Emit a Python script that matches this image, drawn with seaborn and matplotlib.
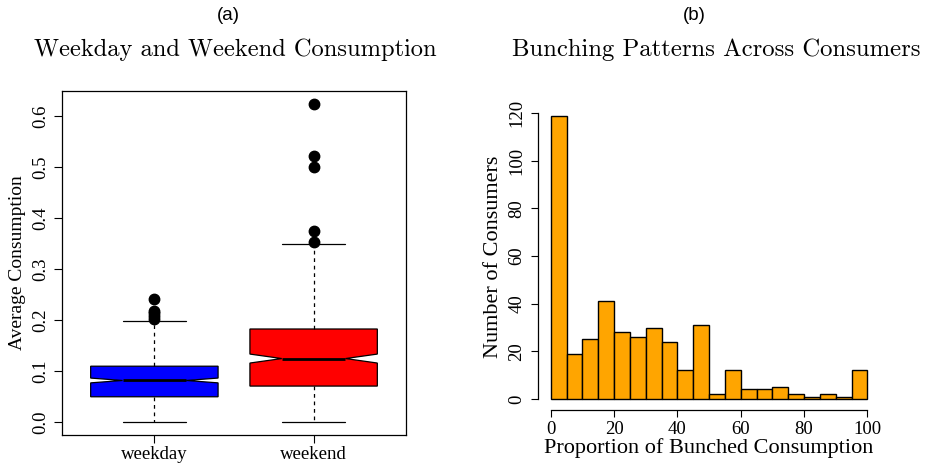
import numpy as np
import pandas as pd
import matplotlib
matplotlib.use("Agg")
import matplotlib.pyplot as plt
import seaborn as sns

# ---------------- data ----------------
groups = ["weekday", "weekend"]
box_colors = ["blue", "red"]

# distinct consumption values and how many consumers share each (n = 400)
weekday_values = [0.0, 0.05, 0.082, 0.11, 0.198, 0.203, 0.208, 0.214, 0.219, 0.242]
weekday_counts = [50, 100, 100, 95, 50, 1, 1, 1, 1, 1]
weekend_values = [0.0, 0.071, 0.125, 0.183, 0.350, 0.354, 0.375, 0.500, 0.522, 0.625]
weekend_counts = [50, 100, 100, 95, 50, 1, 1, 1, 1, 1]

bin_edges = [0, 5, 10, 15, 20, 25, 30, 35, 40, 45, 50, 55, 60, 65, 70, 75, 80, 85, 90, 95, 100]
bin_counts = [119, 19, 25, 41, 28, 26, 30, 24, 12, 31, 2, 12, 4, 4, 5, 2, 1, 2, 1, 12]

left_yticks = [0.0, 0.1, 0.2, 0.3, 0.4, 0.5, 0.6]
left_yticklabels = ["0.0", "0.1", "0.2", "0.3", "0.4", "0.5", "0.6"]
right_yticks = [0, 20, 40, 60, 80, 100, 120]
right_xticks = [0, 20, 40, 60, 80, 100]

# ---------------- build tables ----------------
df_box = pd.DataFrame({
    "group": ["weekday"] * sum(weekday_counts) + ["weekend"] * sum(weekend_counts),
    "value": np.concatenate([np.repeat(weekday_values, weekday_counts),
                             np.repeat(weekend_values, weekend_counts)]),
})
bin_mids = [(a + b) / 2 for a, b in zip(bin_edges[:-1], bin_edges[1:])]
df_hist = pd.DataFrame({"prop": bin_mids, "n": bin_counts})

# ---------------- figure ----------------
sns.set_theme(style="white")
plt.rcParams["font.family"] = ["Liberation Serif", "DejaVu Serif"]
plt.rcParams["text.color"] = "black"
plt.rcParams["axes.labelcolor"] = "black"
plt.rcParams["xtick.color"] = "black"
plt.rcParams["ytick.color"] = "black"

W, H = 932, 468
fig = plt.figure(figsize=(W / 100, H / 100), dpi=100)

def px_axes(x0, y0, x1, y1):
    return fig.add_axes([x0 / W, 1 - y1 / H, (x1 - x0) / W, (y1 - y0) / H])

# ---- (a) boxplot ----
ax1 = px_axes(62, 91, 406, 435)
sns.boxplot(data=df_box, x="group", y="value", hue="group", order=groups,
            hue_order=groups, palette=dict(zip(groups, box_colors)),
            saturation=1, notch=True, width=0.8, linecolor="black",
            linewidth=0.9, legend=False, ax=ax1,
            whiskerprops=dict(linestyle=(0, (3, 3)), linewidth=0.9),
            capprops=dict(linewidth=0.9),
            medianprops=dict(linewidth=2.0, color="black"),
            flierprops=dict(marker="o", markerfacecolor="black",
                            markeredgecolor="black", markersize=7.5))
ax1.set_xlim(-0.58, 1.58)
ax1.set_ylim(-0.025, 0.65)
ax1.set_yticks(left_yticks)
ax1.set_yticklabels(left_yticklabels, rotation=90, va="center")
ax1.set_xlabel("")
ax1.set_ylabel("Average Consumption", fontsize=14, color="black")
ax1.yaxis.set_label_coords(-0.105, 0.5)
for s in ax1.spines.values():
    s.set_visible(True)
    s.set_color("black")
    s.set_linewidth(0.9)
ax1.tick_params(axis="both", which="both", direction="out", length=5.5,
                width=0.8, color="black", labelsize=13.5, labelcolor="black",
                left=True, bottom=True)
ax1.tick_params(axis="y", pad=4)
ax1.tick_params(axis="x", pad=2.5)

# ---- (b) histogram ----
ax2 = px_axes(538, 104.3, 880, 410.3)
sns.histplot(data=df_hist, x="prop", weights="n", bins=bin_edges,
             color="orange", edgecolor="black", linewidth=1.0, alpha=1,
             ax=ax2)
ax2.set_xlim(-4, 104)
ax2.set_ylim(-4.76, 123.76)
ax2.set_xticks(right_xticks)
ax2.set_yticks(right_yticks)
for lbl in ax2.get_yticklabels():
    lbl.set_rotation(90)
    lbl.set_va("center")
ax2.spines["top"].set_visible(False)
ax2.spines["right"].set_visible(False)
for side in ["left", "bottom"]:
    ax2.spines[side].set_color("black")
    ax2.spines[side].set_linewidth(0.9)
ax2.spines["left"].set_bounds(0, 120)
ax2.spines["bottom"].set_bounds(0, 100)
ax2.tick_params(axis="both", direction="out", length=5, width=0.8,
                color="black", labelsize=13.5, labelcolor="black",
                left=True, bottom=True)
ax2.tick_params(axis="y", pad=4)
ax2.tick_params(axis="x", pad=2.5)
ax2.set_xlabel("Proportion of Bunched Consumption", fontsize=16, color="black")
ax2.set_ylabel("Number of Consumers", fontsize=16, color="black")
ax2.xaxis.set_label_coords(0.5, -0.09)
ax2.yaxis.set_label_coords(-0.102, 0.5)

# ---- titles ----
fig.text(228 / W, 1 - 15 / H, "(a)", ha="center", va="center",
         family=["Liberation Sans", "DejaVu Sans"], fontsize=13.5, color="black")
fig.text(694 / W, 1 - 15 / H, "(b)", ha="center", va="center",
         family=["Liberation Sans", "DejaVu Sans"], fontsize=13.5, color="black")
fig.text(235 / W, 1 - 56 / H, "Weekday and Weekend Consumption",
         ha="center", va="baseline", family=["cmr10", "DejaVu Serif"],
         fontsize=17.6, color="black")
fig.text(716 / W, 1 - 56 / H, "Bunching Patterns Across Consumers",
         ha="center", va="baseline", family=["cmr10", "DejaVu Serif"],
         fontsize=17.8, color="black")

fig.savefig("out.png", dpi=100, facecolor="white")
